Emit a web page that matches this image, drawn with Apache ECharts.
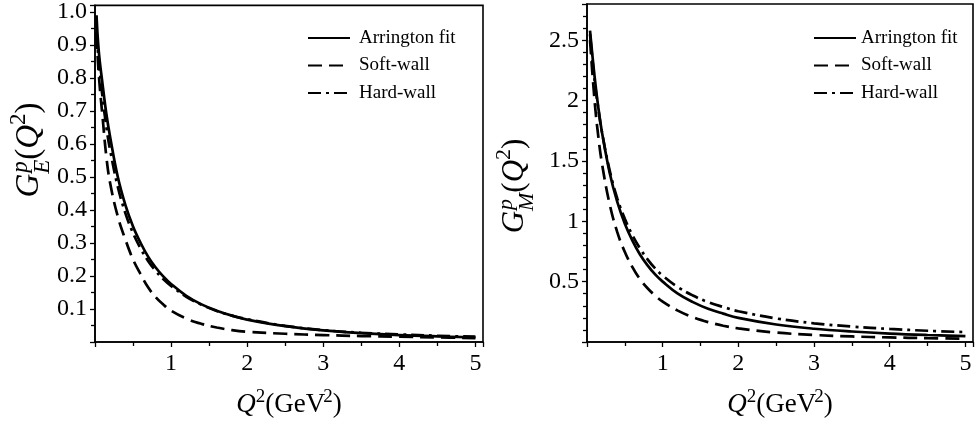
<!DOCTYPE html>
<html>
<head>
<meta charset="utf-8">
<script src="https://cdn.jsdelivr.net/npm/echarts@6/dist/echarts.min.js"></script>
<style>
html,body{margin:0;padding:0;background:#fff;}
#c{width:976px;height:422px;}
</style>
</head>
<body>
<div id="c"></div>
<script>
// ---- data ----
const q2 = [0.02, 0.05, 0.1, 0.15, 0.2, 0.3, 0.4, 0.5, 0.6, 0.7, 0.8, 0.9, 1.0, 1.2, 1.4, 1.6, 1.8, 2.0, 2.5, 3.0, 3.5, 4.0, 4.5, 5.0];
const geArrington = [0.99, 0.88, 0.78, 0.69, 0.62, 0.50, 0.415, 0.35, 0.30, 0.258, 0.225, 0.198, 0.176, 0.14, 0.114, 0.095, 0.08, 0.068, 0.048, 0.035, 0.027, 0.021, 0.017, 0.014];
const geSoft = [0.93, 0.81, 0.68, 0.56, 0.48, 0.38, 0.31, 0.25, 0.205, 0.165, 0.135, 0.113, 0.095, 0.071, 0.055, 0.044, 0.036, 0.031, 0.025, 0.021, 0.018, 0.016, 0.014, 0.012];
const geHard = [0.94, 0.85, 0.74, 0.65, 0.58, 0.47, 0.39, 0.33, 0.283, 0.245, 0.215, 0.19, 0.17, 0.137, 0.113, 0.094, 0.08, 0.069, 0.049, 0.036, 0.028, 0.023, 0.019, 0.016];
const q2m = [0.04, 0.1, 0.15, 0.2, 0.3, 0.4, 0.5, 0.6, 0.7, 0.8, 0.9, 1.0, 1.2, 1.4, 1.6, 1.8, 2.0, 2.5, 3.0, 3.5, 4.0, 4.5, 5.0];
const gmArrington = [2.58, 2.2, 1.94, 1.73, 1.4, 1.16, 0.98, 0.84, 0.725, 0.635, 0.56, 0.5, 0.4, 0.33, 0.275, 0.235, 0.2, 0.145, 0.11, 0.087, 0.07, 0.058, 0.049];
const gmSoft = [2.5, 2.0, 1.7, 1.47, 1.14, 0.91, 0.745, 0.62, 0.52, 0.445, 0.385, 0.335, 0.26, 0.205, 0.165, 0.135, 0.113, 0.078, 0.058, 0.046, 0.038, 0.032, 0.028];
const gmHard = [2.55, 2.17, 1.93, 1.73, 1.42, 1.19, 1.02, 0.885, 0.775, 0.685, 0.61, 0.55, 0.455, 0.385, 0.33, 0.29, 0.255, 0.195, 0.155, 0.128, 0.108, 0.093, 0.082];
const seriesNames = ['Arrington fit', 'Soft-wall', 'Hard-wall'];
const xTicks = [1, 2, 3, 4, 5];
const yTicksLeft = ['0.1','0.2','0.3','0.4','0.5','0.6','0.7','0.8','0.9','1.0'];
const yTicksRight = ['0.5','1','1.5','2','2.5'];

const FONT = '"Liberation Serif", "Times New Roman", serif';
const chart = echarts.init(document.getElementById('c'), null, {renderer: 'canvas'});

function pairs(xs, ys) { return xs.map((x, i) => [x, ys[i]]); }
const styles = [
  {type: 'solid'},
  {type: [14, 7]},
  {type: [13, 5, 3, 5]}
];

function xAxisCfg(gi) {
  return {
    type: 'value', gridIndex: gi, min: 0, max: 5.1, interval: 1,
    axisLine: {show: true, onZero: false, lineStyle: {color: '#000', width: 1.6}},
    axisTick: {show: true, inside: false, length: 5, lineStyle: {color: '#000', width: 1.3}},
    minorTick: {show: true, splitNumber: 2, length: 4, lineStyle: {color: '#000', width: 1.3}},
    splitLine: {show: false},
    axisLabel: {
      margin: 10, color: '#000', fontFamily: FONT, fontSize: 24,
      formatter: v => (xTicks.indexOf(Math.round(v * 1000) / 1000) >= 0 ? String(Math.round(v)) : '')
    }
  };
}

const option = {
  animation: false,
  backgroundColor: '#fff',
  grid: [
    {left: 95, top: 4, width: 388, height: 338, show: true, borderColor: '#000', borderWidth: 1.6},
    {left: 587, top: 4, width: 386, height: 338, show: true, borderColor: '#000', borderWidth: 1.6}
  ],
  xAxis: [xAxisCfg(0), xAxisCfg(1)],
  yAxis: [
    {
      type: 'value', gridIndex: 0, min: 0, max: 1.02, interval: 0.1,
      axisLine: {show: true, onZero: false, lineStyle: {color: '#000', width: 1.6}},
      axisTick: {show: true, length: 5, lineStyle: {color: '#000', width: 1.3}},
      minorTick: {show: true, splitNumber: 2, length: 4, lineStyle: {color: '#000', width: 1.3}},
      splitLine: {show: false},
      axisLabel: {
        margin: 8, color: '#000', fontFamily: FONT, fontSize: 24,
        formatter: v => { const s = v.toFixed(1); return yTicksLeft.indexOf(s) >= 0 ? s : ''; }
      }
    },
    {
      type: 'value', gridIndex: 1, min: 0, max: 2.8, interval: 0.5,
      axisLine: {show: true, onZero: false, lineStyle: {color: '#000', width: 1.6}},
      axisTick: {show: true, length: 5, lineStyle: {color: '#000', width: 1.3}},
      minorTick: {show: true, splitNumber: 5, length: 4, lineStyle: {color: '#000', width: 1.3}},
      splitLine: {show: false},
      axisLabel: {
        margin: 8, color: '#000', fontFamily: FONT, fontSize: 24,
        formatter: v => { const s = String(Math.round(v * 10) / 10); return yTicksRight.indexOf(s) >= 0 ? s : ''; }
      }
    }
  ],
  legend: [
    {
      data: seriesNames, orient: 'vertical', left: 302, top: 23,
      itemWidth: 42, itemHeight: 20, itemGap: 7.5,
      itemStyle: {opacity: 0},
      textStyle: {fontFamily: FONT, fontSize: 19, color: '#000', lineHeight: 20, padding: [0, 0, 0, 4]},
      selectedMode: false
    },
    {
      data: seriesNames, orient: 'vertical', left: 808, top: 23,
      itemWidth: 42, itemHeight: 20, itemGap: 7.5,
      itemStyle: {opacity: 0},
      textStyle: {fontFamily: FONT, fontSize: 19, color: '#000', lineHeight: 20, padding: [0, 0, 0, 0]},
      selectedMode: false
    }
  ],
  series: []
};

const leftSets = [geArrington, geSoft, geHard];
const rightSets = [gmArrington, gmSoft, gmHard];
seriesNames.forEach((nm, i) => {
  option.series.push({
    type: 'line', name: nm, xAxisIndex: 0, yAxisIndex: 0, data: pairs(q2, leftSets[i]),
    symbol: 'none', smooth: 0.4, lineStyle: Object.assign({color: '#000', width: 2.7}, styles[i]), itemStyle: {color: '#000'}
  });
});
seriesNames.forEach((nm, i) => {
  option.series.push({
    type: 'line', name: nm, xAxisIndex: 1, yAxisIndex: 1, data: pairs(q2m, rightSets[i]),
    symbol: 'none', smooth: 0.4, lineStyle: Object.assign({color: '#000', width: 2.7}, styles[i]), itemStyle: {color: '#000'}
  });
});

// ---- axis titles with super/subscripts (text elements) ----
const mctx = document.createElement('canvas').getContext('2d');
function fontStr(sz, it) { return (it ? 'italic ' : '') + sz + 'px ' + FONT; }
function measure(t, sz, it) { mctx.font = fontStr(sz, it); return mctx.measureText(t).width; }
function buildTitle(tokens) {
  const kids = [];
  let x = 0, lastStart = 0;
  tokens.forEach(tk => {
    const w = measure(tk.t, tk.sz, tk.it);
    const dx = tk.dx || 0;
    let px;
    if (tk.stack) { px = lastStart + dx; x = Math.max(x, px + w); }
    else { px = x + dx; lastStart = x; x = px + w; }
    kids.push({type: 'text', x: px, y: tk.dy || 0, style: {text: tk.t, font: fontStr(tk.sz, tk.it), fill: '#000', verticalAlign: 'bottom'}});
  });
  return {kids, width: x};
}
function xTitle() {
  return buildTitle([
    {t: 'Q', it: true, sz: 27, dy: 0},
    {t: '2', it: false, sz: 19, dy: -11},
    {t: '(GeV', it: false, sz: 27, dy: 0},
    {t: '2', it: false, sz: 19, dy: -11, dx: -2},
    {t: ')', it: false, sz: 27, dy: 0, dx: 0}
  ]);
}
function yTitle(sub, sz) {
  const s2 = Math.round(sz * 0.7);
  return buildTitle([
    {t: 'G', it: true, sz: sz, dy: 0},
    {t: 'p', it: true, sz: s2, dy: -Math.round(sz * 0.42), dx: 1},
    {t: sub, it: true, sz: s2, dy: Math.round(sz * 0.25), stack: true, dx: 0},
    {t: '(', it: false, sz: sz, dy: 0},
    {t: 'Q', it: true, sz: sz, dy: 0},
    {t: '2', it: false, sz: s2, dy: -Math.round(sz * 0.47)},
    {t: ')', it: false, sz: sz, dy: 0}
  ]);
}
const xt1 = xTitle(), xt2 = xTitle();
const yt1 = yTitle('E', 33), yt2 = yTitle('M', 31);
option.graphic = [
  {type: 'group', x: 289 - xt1.width / 2, y: 418, children: xt1.kids},
  {type: 'group', x: 780 - xt2.width / 2, y: 418, children: xt2.kids},
  {type: 'group', x: 46, y: 150 + yt1.width / 2, rotation: Math.PI / 2, children: yt1.kids},
  {type: 'group', x: 530, y: 186 + yt2.width / 2, rotation: Math.PI / 2, children: yt2.kids}
];

chart.setOption(option);
</script>
</body>
</html>
